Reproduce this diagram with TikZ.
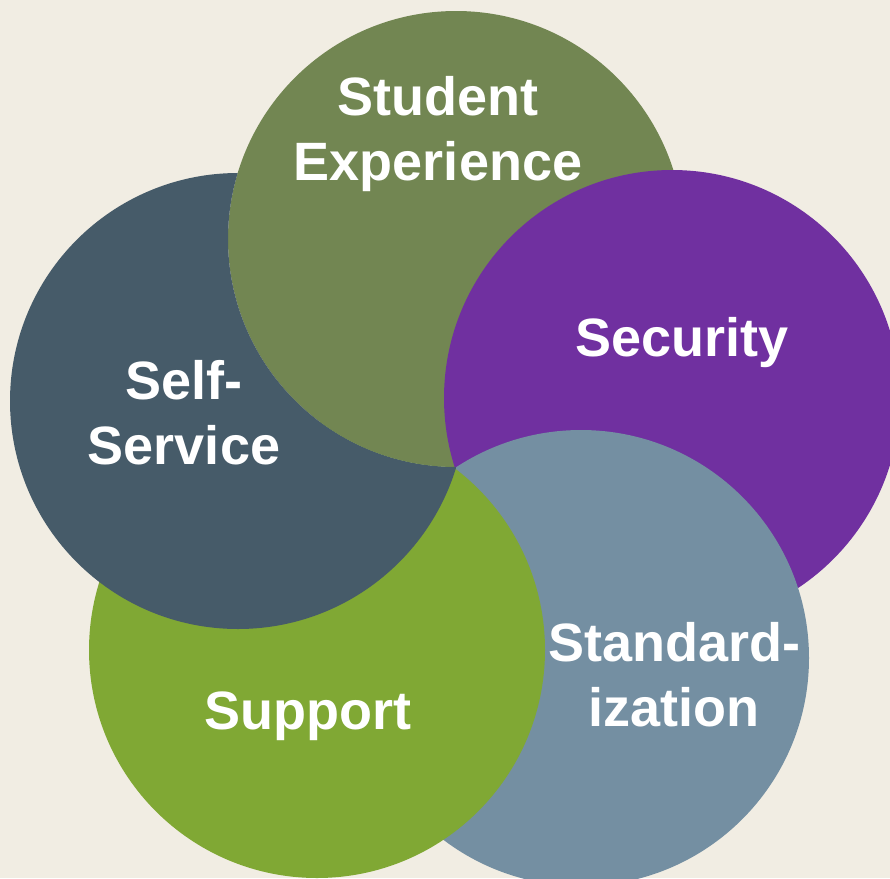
\documentclass[tikz,border=0pt]{standalone}
\usepackage{fontspec}
\setmainfont{Liberation Sans}
\definecolor{bgC}{RGB}{241,237,227}
\definecolor{seC}{RGB}{114,134,82}
\definecolor{secC}{RGB}{112,48,160}
\definecolor{stdC}{RGB}{116,143,162}
\definecolor{supC}{RGB}{128,168,52}
\definecolor{ssC}{RGB}{70,91,105}
\tikzset{
  lbl/.style={text=white, font=\fontsize{54}{65}\selectfont\bfseries, align=center, inner sep=0pt, anchor=base},
}
\begin{document}
\begin{tikzpicture}[x=1pt,y=-1pt]
\useasboundingbox (0,0) rectangle (890,878);
\clip (0,0) rectangle (890,878);
\fill[bgC] (0,0) rectangle (890,878);
\coordinate (se) at (456,239);
\coordinate (sec) at (672,398);
\coordinate (std) at (581,658);
\coordinate (sup) at (317,650);
\coordinate (ss) at (238,401);
\def\R{228pt}
\fill[seC] (se) circle[radius=\R];
\fill[secC] (sec) circle[radius=\R];
\fill[stdC] (std) circle[radius=\R];
% Support, minus its overlap with Student Experience
\begin{scope}
  \clip (2441.5,1139.5) -- (-1668.5,-250.5) -- (-2363.5,1804.5) -- (1746.5,3194.5) -- cycle;
  \fill[supC, even odd rule] (sup) circle[radius=\R] (se) circle[radius=\R];
\end{scope}
% Self-Service, minus its overlap with Student Experience
\begin{scope}
  \clip (1967,2500) -- (-1273,-1860) -- (-3453,-240) -- (-213,4120) -- cycle;
  \fill[ssC, even odd rule] (ss) circle[radius=\R] (se) circle[radius=\R];
\end{scope}
\node[lbl] (tse) at (438,180) {Student\\Experience};
\node[lbl] (tsec) at (682,356) {Security};
\node[lbl] (tss) at (184,464) {Self-\\Service};
\node[lbl] (tstd) at (674,726) {Standard-\\ization};
\node[lbl] (tsup) at (308,729) {Support};
\end{tikzpicture}
\end{document}
